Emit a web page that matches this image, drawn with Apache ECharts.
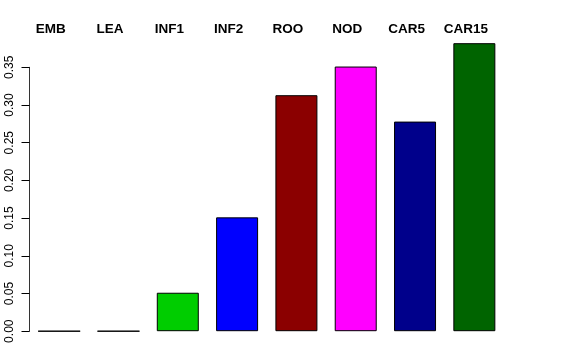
<!DOCTYPE html>
<html><head><meta charset="utf-8">
<script src="https://cdn.jsdelivr.net/npm/echarts@6/dist/echarts.min.js"></script>
<style>html,body{margin:0;padding:0;background:#fff}#c{width:576px;height:360px}</style>
</head><body><div id="c"></div>
<script>
var categories = ['EMB','LEA','INF1','INF2','ROO','NOD','CAR5','CAR15'];
var values = [0, 0, 0.051, 0.151, 0.313, 0.351, 0.278, 0.382];
var barColors = ['#ffffff','#ffffff','#00CD00','#0000FF','#8B0000','#FF00FF','#00008B','#006400'];
var yTicks = [0, 0.05, 0.10, 0.15, 0.20, 0.25, 0.30, 0.35];

var chart = echarts.init(document.getElementById('c'), null, {renderer:'canvas'});
chart.setOption({
  animation:false,
  backgroundColor:'#fff',
  grid:{left:29.5, right:72, top:67.3, bottom:28.8, containLabel:false},
  xAxis:{
    type:'category', data:categories, position:'top',
    axisLine:{show:false}, axisTick:{show:false}, splitLine:{show:false},
    axisLabel:{margin:31, fontWeight:'bold', fontSize:13.5, color:'#000',
      fontFamily:'Liberation Sans, Arial, sans-serif', padding:[0,17,0,0]}
  },
  yAxis:{
    type:'value', min:yTicks[0], max:yTicks[yTicks.length-1], interval:0.05,
    axisLine:{show:true, lineStyle:{color:'#333', width:1}},
    axisTick:{show:true, length:8, lineStyle:{color:'#000'}},
    splitLine:{show:false},
    axisLabel:{rotate:90, margin:14, fontSize:12, color:'#000',
      fontFamily:'Liberation Sans, Arial, sans-serif',
      formatter:function(v){return v.toFixed(2);}}
  },
  series:[{
    type:'bar', clip:false, barWidth:42,
    data: values.map(function(v,i){return {value:v, itemStyle:{color:barColors[i]}};}),
    itemStyle:{borderColor:'#000', borderWidth:1}
  }]
});
</script></body></html>
